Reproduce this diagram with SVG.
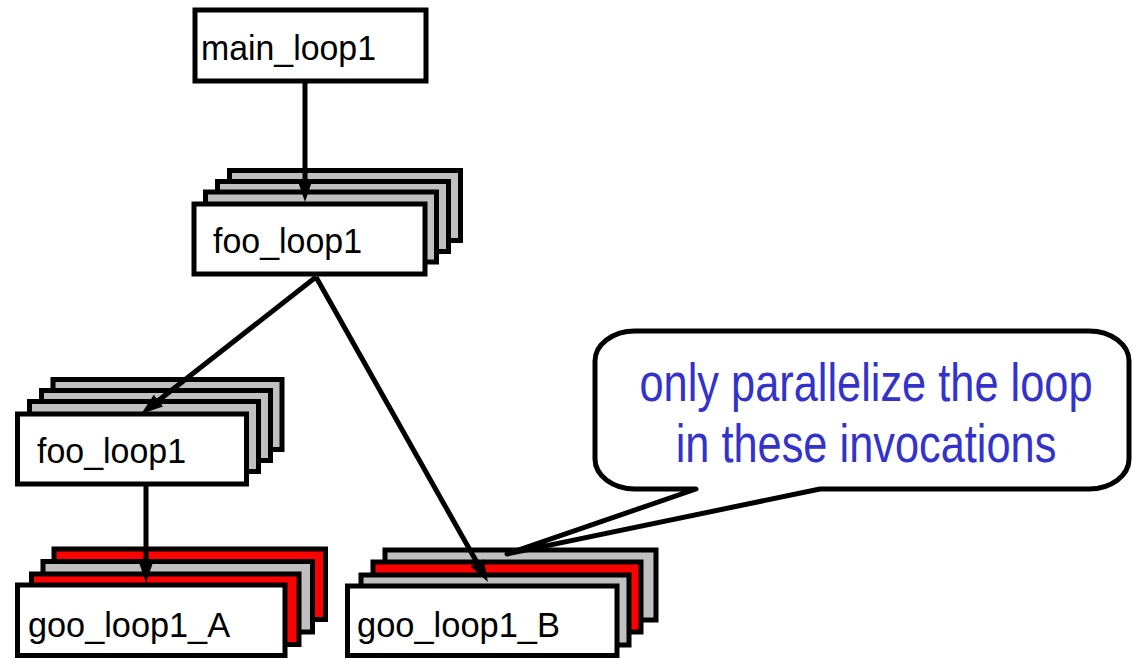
<svg xmlns="http://www.w3.org/2000/svg" width="1133" height="659" viewBox="0 0 1133 659">
  <style>
    .box { fill: #ffffff; stroke: #000000; stroke-width: 5; }
    .gray { fill: #c0c0c0; stroke: #000000; stroke-width: 5; }
    .red { fill: #ff0000; stroke: #000000; stroke-width: 5; }
    .lbl { font-family: "Liberation Sans", Arial, sans-serif; font-size: 35px; fill: #000000; }
    .edge { fill: none; stroke: #000000; stroke-width: 5; marker-end: url(#arrow); }
    .note { fill: #ffffff; stroke: #000000; stroke-width: 5; stroke-linejoin: round; }
    .noteText { font-family: "Liberation Sans", Arial, sans-serif; font-size: 53px; fill: #3333cc; text-anchor: middle; }
  </style>
  <defs>
    <marker id="arrow" markerUnits="userSpaceOnUse" markerWidth="24" markerHeight="16" refX="4" refY="7.5" orient="auto">
      <path d="M0,0 L22,7.5 L0,15 Z" fill="#000000"/>
    </marker>
  </defs>

  <rect width="1133" height="659" fill="#ffffff"/>

  <!-- top-level loop -->
  <g id="main_loop1">
    <rect class="box" x="195" y="10" width="231" height="71"/>
    <text class="lbl" x="201" y="60" textLength="175" lengthAdjust="spacingAndGlyphs">main_loop1</text>
  </g>

  <!-- foo invocations under main -->
  <g id="foo_loop1_a">
    <rect class="gray" x="229.5" y="170.5" width="231" height="70"/>
    <rect class="gray" x="217.5" y="181.5" width="231" height="70"/>
    <rect class="gray" x="205.5" y="192" width="231" height="70"/>
    <rect class="box" x="194" y="204" width="231" height="70"/>
    <text class="lbl" x="213" y="253" textLength="149" lengthAdjust="spacingAndGlyphs">foo_loop1</text>
  </g>

  <!-- nested foo invocations -->
  <g id="foo_loop1_b">
    <rect class="gray" x="53" y="379.5" width="229" height="70"/>
    <rect class="gray" x="41.5" y="390.5" width="229" height="70"/>
    <rect class="gray" x="29.5" y="401.5" width="229" height="70"/>
    <rect class="box" x="17.5" y="414" width="229" height="70"/>
    <text class="lbl" x="37" y="463" textLength="149" lengthAdjust="spacingAndGlyphs">foo_loop1</text>
  </g>

  <!-- goo invocations, variant A -->
  <g id="goo_loop1_A">
    <rect class="red" x="54" y="549" width="271.5" height="70.5"/>
    <rect class="gray" x="43" y="561.5" width="269.5" height="70.5"/>
    <rect class="red" x="31.5" y="574" width="267.5" height="70.5"/>
    <rect class="box" x="17.5" y="585" width="267.5" height="70.5"/>
    <text class="lbl" x="28" y="637" textLength="202" lengthAdjust="spacingAndGlyphs">goo_loop1_A</text>
  </g>

  <!-- goo invocations, variant B -->
  <g id="goo_loop1_B">
    <rect class="gray" x="385" y="550" width="271" height="70"/>
    <rect class="red" x="373" y="562" width="268" height="70"/>
    <rect class="gray" x="361" y="575" width="268" height="70"/>
    <rect class="box" x="347.5" y="586" width="269.5" height="69.5"/>
    <text class="lbl" x="357" y="637" textLength="203" lengthAdjust="spacingAndGlyphs">goo_loop1_B</text>
  </g>

  <!-- call edges -->
  <g id="connectors">
    <line class="edge" x1="305" y1="82" x2="305" y2="184"/>
    <line class="edge" x1="316" y1="277" x2="155.3" y2="403"/>
    <line class="edge" x1="316" y1="277" x2="479.1" y2="566.3"/>
    <line class="edge" x1="146" y1="486" x2="146" y2="565"/>
  </g>

  <!-- annotation balloon -->
  <g id="callout">
    <path class="note" d="M 635,331 H 1089 A 40 30 0 0 1 1129 361 V 459 A 40 30 0 0 1 1089 489 H 820 L 507 554 L 696 489 H 635 A 40 30 0 0 1 595 459 V 361 A 40 30 0 0 1 635 331 Z"/>
    <text class="noteText" transform="translate(866,401) scale(0.818,1)" x="0" y="0">only parallelize the loop</text>
    <text class="noteText" transform="translate(866,462) scale(0.818,1)" x="0" y="0">in these invocations</text>
  </g>
</svg>
